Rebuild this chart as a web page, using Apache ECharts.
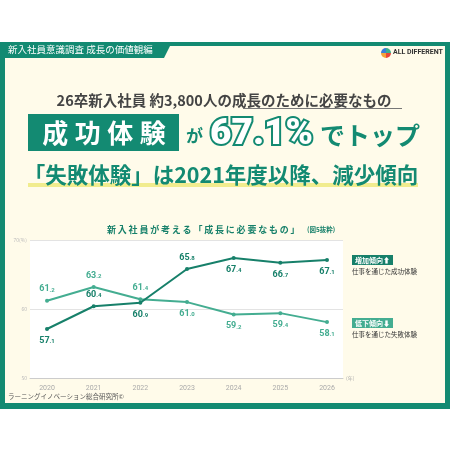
<!DOCTYPE html>
<html>
<head>
<meta charset="utf-8">
<script src="https://cdn.jsdelivr.net/npm/echarts@6/dist/echarts.min.js"></script>
<style>
  html, body { margin: 0; padding: 0; background: #fff; }
  #main { width: 450px; height: 450px; }
</style>
</head>
<body>
<div id="main"></div>
<script>
// データ
var years = ['2020', '2021', '2022', '2023', '2024', '2025', '2026'];
var successValues = [57.1, 60.4, 60.9, 65.8, 67.4, 66.7, 67.1]; // 仕事を通じた成功体験
var failureValues = [61.2, 63.2, 61.4, 61.0, 59.2, 59.4, 58.1]; // 仕事を通じた失敗体験
var successLabelPos = ['bottom', 'top', 'bottom', 'top', 'bottom', 'bottom', 'bottom'];
var failureLabelPos = ['top', 'top', 'top', 'bottom', 'bottom', 'bottom', 'bottom'];
var yTicks = [50, 60, 70];

var TEAL = '#138a72';
var DARK = '#17806a';
var LIGHT = '#44ad91';
var CREAM = '#fffbea';
var JP = '"Noto Sans CJK JP", "Noto Sans", sans-serif';

var chart = echarts.init(document.getElementById('main'));

// 小数部分を小さく表示
function labelFormatter(p) {
    var parts = p.value.toFixed(1).split('.');
    return '{i|' + parts[0] + '}{d|.' + parts[1] + '}';
}
function richFor(color) {
    return {
        i: { fontSize: 9, fontWeight: 'bold', color: color, fontFamily: 'Roboto' },
        d: { fontSize: 6, fontWeight: 'bold', color: color, fontFamily: 'Roboto', padding: [2, 0, 0, 0] }
    };
}
function seriesData(values, pos) {
    return values.map(function (v, i) {
        return { value: v, label: { position: pos[i] } };
    });
}

var option = {
    backgroundColor: '#fff',
    animation: false,
    textStyle: { fontFamily: JP },
    graphic: [
        // 枠
        { type: 'rect', shape: { x: 0, y: 42, width: 450, height: 367 }, style: { fill: TEAL }, z: -20 },
        { type: 'rect', shape: { x: 5, y: 46, width: 440, height: 357 }, style: { fill: CREAM }, z: -19 },
        { type: 'polygon', shape: { points: [[0, 42], [172, 42], [164, 58], [0, 58]] }, style: { fill: TEAL }, z: -18 },
        { type: 'text', left: 8, top: 45, style: { text: '新入社員意識調査 成長の価値観編', fill: '#fff', fontSize: 9.5, fontFamily: JP } },
        // ロゴ
        { type: 'sector', shape: { cx: 386, cy: 53, r: 5, startAngle: 0, endAngle: Math.PI / 2 }, style: { fill: '#e8453c' } },
        { type: 'sector', shape: { cx: 386, cy: 53, r: 5, startAngle: Math.PI / 2, endAngle: Math.PI }, style: { fill: '#f2a33a' } },
        { type: 'sector', shape: { cx: 386, cy: 53, r: 5, startAngle: Math.PI, endAngle: Math.PI * 1.5 }, style: { fill: '#3b7dd8' } },
        { type: 'sector', shape: { cx: 386, cy: 53, r: 5, startAngle: Math.PI * 1.5, endAngle: Math.PI * 2 }, style: { fill: '#3bb08f' } },
        { type: 'text', left: 393, top: 49, style: { text: 'ALL DIFFERENT', fill: '#333', fontSize: 7, fontWeight: 'bold', fontFamily: 'Roboto' } },
        // 見出し
        { type: 'text', x: 224, y: 100, style: { text: '26卒新入社員 約3,800人の成長のために必要なもの', fill: '#444', fontSize: 14.5, fontWeight: 'bold', align: 'center', verticalAlign: 'middle', fontFamily: JP } },
        { type: 'line', shape: { x1: 243, y1: 108.5, x2: 402, y2: 108.5 }, style: { stroke: '#777', lineWidth: 1 } },
        { type: 'rect', shape: { x: 28, y: 114, width: 151, height: 37 }, style: { fill: TEAL } },
        { type: 'text', x: 104, y: 133, style: { text: '成\u2005功\u2005体\u2005験', fill: '#fff', fontSize: 26, fontWeight: 'bold', align: 'center', verticalAlign: 'middle', fontFamily: JP } },
        { type: 'text', x: 186, y: 136, style: { text: 'が', fill: TEAL, fontSize: 17, fontWeight: 'bold', verticalAlign: 'middle', fontFamily: JP } },
        { type: 'text', x: 210, y: 135, style: { text: '67.1%', fill: '#fff', stroke: TEAL, lineWidth: 4, fontSize: 37, fontWeight: 900, verticalAlign: 'middle', fontFamily: 'Roboto' } },
        { type: 'text', x: 320, y: 135, style: { text: 'でトップ', fill: TEAL, fontSize: 25, fontWeight: 'bold', verticalAlign: 'middle', fontFamily: JP } },
        { type: 'rect', shape: { x: 28, y: 183, width: 390, height: 4 }, style: { fill: '#f1ec8e' } },
        { type: 'text', x: 221, y: 175, style: { text: '「失敗体験」は2021年度以降、減少傾向', fill: TEAL, fontSize: 21.5, fontWeight: 'bold', align: 'center', verticalAlign: 'middle', fontFamily: JP } },
        // グラフタイトル
        { type: 'text', x: 107, y: 230, style: { text: '新\u2009入\u2009社\u2009員\u2009が\u2009考\u2009え\u2009る\u2009「\u2009成\u2009長\u2009に\u2009必\u2009要\u2009な\u2009も\u2009の\u2009」', fill: DARK, fontSize: 9, fontWeight: 'bold', verticalAlign: 'middle', fontFamily: JP } },
        { type: 'text', x: 307, y: 230, style: { text: '(図5抜粋)', fill: DARK, fontSize: 6.5, fontWeight: 'bold', verticalAlign: 'middle', fontFamily: JP } },
        // 凡例
        { type: 'rect', shape: { x: 352, y: 255, width: 41, height: 10 }, style: { fill: DARK } },
        { type: 'text', x: 355, y: 260, style: { text: '増加傾向⬆', fill: '#fff', fontSize: 7, fontWeight: 'bold', verticalAlign: 'middle', fontFamily: JP } },
        { type: 'text', x: 352, y: 272, style: { text: '仕事を通じた成功体験', fill: '#333', fontSize: 6.5, verticalAlign: 'middle', fontFamily: JP } },
        { type: 'rect', shape: { x: 352, y: 318, width: 41, height: 10 }, style: { fill: LIGHT } },
        { type: 'text', x: 355, y: 323, style: { text: '低下傾向⬇', fill: '#fff', fontSize: 7, fontWeight: 'bold', verticalAlign: 'middle', fontFamily: JP } },
        { type: 'text', x: 352, y: 335, style: { text: '仕事を通じた失敗体験', fill: '#333', fontSize: 6.5, verticalAlign: 'middle', fontFamily: JP } },
        // 出典
        { type: 'text', x: 8, y: 397, style: { text: 'ラーニングイノベーション総合研究所©', fill: '#555', fontSize: 6.5, verticalAlign: 'middle', fontFamily: JP } }
    ],
    grid: [
        { left: 30, right: 107, top: 240, bottom: 72, show: true, backgroundColor: '#fff', borderWidth: 0 },
        { left: 47, right: 123, top: 240, bottom: 72 }
    ],
    xAxis: [
        {
            gridIndex: 0, type: 'value', min: 0, max: 1,
            axisLine: { show: true, lineStyle: { color: '#ccc', width: 1 } },
            axisTick: { show: false }, axisLabel: { show: false }, splitLine: { show: false },
            name: '(年)', nameLocation: 'end', nameGap: 3,
            nameTextStyle: { fontSize: 5, color: '#aaa', verticalAlign: 'middle' }
        },
        {
            gridIndex: 1, type: 'category', data: years, boundaryGap: false,
            axisLine: { show: false }, axisTick: { show: false },
            axisLabel: { fontSize: 7, color: '#aaa', margin: 7, fontFamily: 'Roboto' }
        }
    ],
    yAxis: [
        {
            gridIndex: 0, type: 'value', min: yTicks[0], max: yTicks[2], interval: 10,
            axisLine: { show: false }, axisTick: { show: false },
            splitLine: { lineStyle: { color: '#e3e3e3', width: 1 } },
            axisLabel: {
                fontSize: 5, color: '#bbb', margin: 3,
                formatter: function (v) { return v === yTicks[2] ? v + '(%)' : v; }
            }
        },
        { gridIndex: 1, type: 'value', min: yTicks[0], max: yTicks[2], show: false }
    ],
    series: [
        {
            name: '仕事を通じた失敗体験', type: 'line', xAxisIndex: 1, yAxisIndex: 1,
            data: seriesData(failureValues, failureLabelPos),
            symbol: 'circle', symbolSize: 4,
            lineStyle: { color: LIGHT, width: 2 }, itemStyle: { color: LIGHT },
            label: { show: true, distance: 5, formatter: labelFormatter, rich: richFor(LIGHT) }
        },
        {
            name: '仕事を通じた成功体験', type: 'line', xAxisIndex: 1, yAxisIndex: 1,
            data: seriesData(successValues, successLabelPos),
            symbol: 'circle', symbolSize: 4,
            lineStyle: { color: DARK, width: 2 }, itemStyle: { color: DARK },
            label: { show: true, distance: 5, formatter: labelFormatter, rich: richFor(DARK) }
        }
    ]
};

chart.setOption(option);
</script>
</body>
</html>
